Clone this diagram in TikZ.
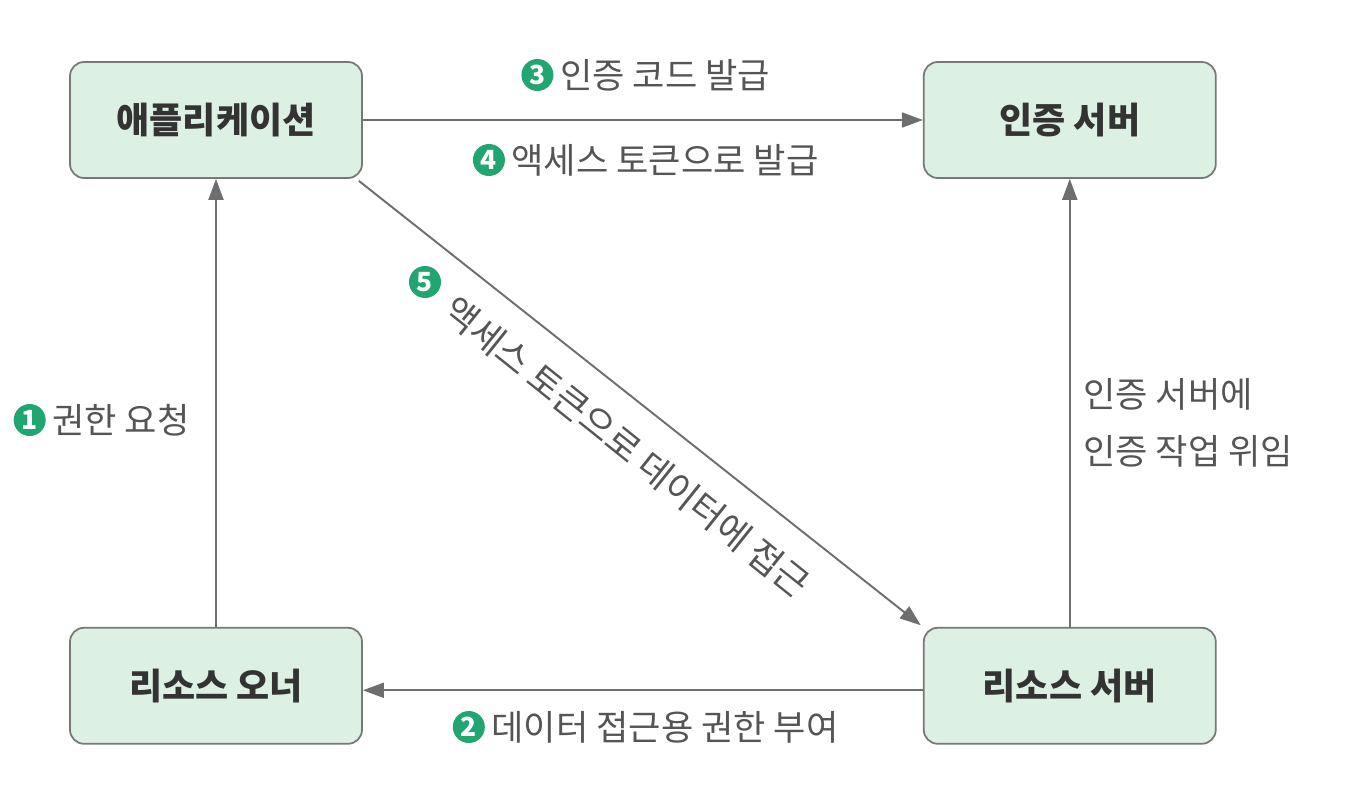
\documentclass[tikz,border=0pt]{standalone}
\usepackage{fontspec}
\setmainfont{Noto Sans CJK KR}
\usepackage{xcolor}
\usepackage{tikz}
\usetikzlibrary{positioning,calc,arrows.meta}
\definecolor{BoxFill}{RGB}{221,240,228}
\definecolor{BoxLine}{RGB}{120,120,120}
\definecolor{ArrGray}{RGB}{110,110,110}
\definecolor{TxtGray}{RGB}{85,85,85}
\definecolor{BadgeGreen}{RGB}{33,165,113}
\tikzset{
    box/.style={rectangle, rounded corners=0.28cm, draw=BoxLine, fill=BoxFill, line width=1pt,
        minimum width=5.84cm, minimum height=2.32cm, inner sep=0pt,
        font=\fontsize{20.5}{24}\selectfont\bfseries, text=black!80},
    arr/.style={draw=ArrGray, line width=1.1pt, -{Triangle[length=0.42cm, width=0.3cm]}}
}
\begin{document}
\begin{tikzpicture}[
        % --- STYLE NHAN ---
        lbl/.style={
            inner sep=0pt,
            text=TxtGray,
            font=\fontsize{20}{24}\selectfont
        },
        % Style so tron (xanh la)
        badge/.style={
            circle,
            fill=BadgeGreen,
            text=white,
            minimum size=0.64cm,
            inner sep=0pt,
            font=\fontsize{15}{15}\selectfont\bfseries
        }
    ]
        \useasboundingbox (0,0) rectangle (27,-15.9);

        % --- CAC HOP ---
        \node[box] (app) at (4.32,-2.40) {애플리케이션};
        \node[box, right=11.2cm of app] (authsrv) {인증 서버};
        \node[box, below=8.96cm of app] (owner) {리소스 오너};
        \node[box, below=8.96cm of authsrv] (ressrv) {리소스 서버};

        % --- DUONG NOI ---
        \draw[arr] (app.east) -- (authsrv.west);
        \draw[arr] (owner.north) -- (app.south);
        \draw[arr] ([yshift=-0.09cm]ressrv.west) -- ([yshift=-0.09cm]owner.east);
        \draw[arr] (ressrv.north) -- (authsrv.south);
        \draw[arr, shorten >=1.5pt] ([shift={(-0.08,-0.04)}]app.south east) -- (ressrv.north west);

        % --- NHAN ---
        \node[lbl] (l1) at (2.42,-8.40) {권한 요청};
        \node[badge, left=0.12cm of l1] (b1) {1};

        \node[lbl] (l2) at (13.30,-14.54) {데이터 접근용 권한 부여};
        \node[badge, left=0.12cm of l2] (b2) {2};

        \node[lbl] (l3) at (13.30,-1.50) {인증 코드 발급};
        \node[badge, left=0.12cm of l3] (b3) {3};

        \node[lbl] (l4) at (13.30,-3.20) {액세스 토큰으로 발급};
        \node[badge, left=0.12cm of l4] (b4) {4};

        \node[lbl, rotate=-38.66, font=\fontsize{20.5}{24}\selectfont] (l5) at (12.54,-8.94) {액세스 토큰으로 데이터에 접근};
        \node[badge] (b5) at (8.50,-5.64) {5};

        \node[lbl, anchor=west, align=left, font=\fontsize{20}{32.5}\selectfont] (l6) at (21.66,-8.45) {인증 서버에\\인증 작업 위임};

    \end{tikzpicture}
\end{document}
